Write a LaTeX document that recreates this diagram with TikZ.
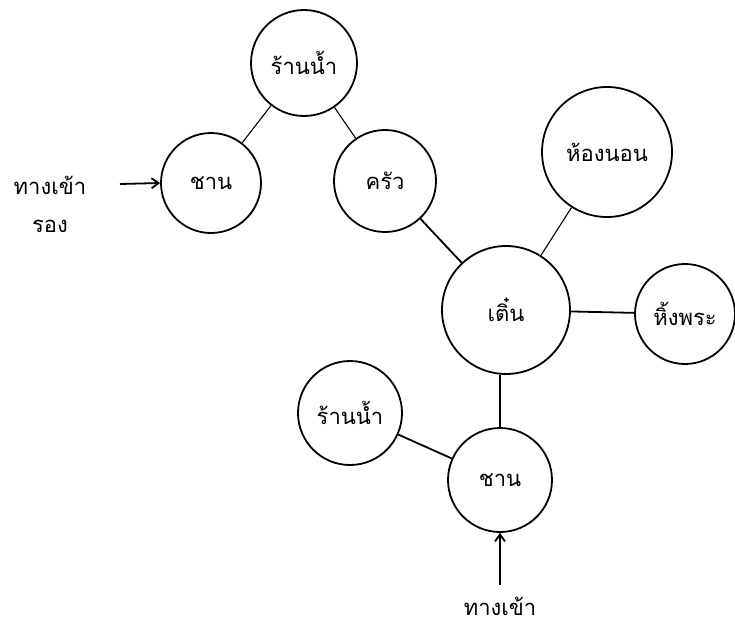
\documentclass[tikz,border=0pt]{standalone}
\usepackage{fontspec}
\newfontfamily\thaifont[Script=Thai]{Loma}
\usetikzlibrary{arrows.meta}
\begin{document}
\begin{tikzpicture}[x=1pt,y=-1pt,
  room/.style={circle,draw,line width=1.8pt,inner sep=0pt,font=\thaifont\fontsize{22}{26}\selectfont},
  lbl/.style={font=\thaifont\fontsize{22}{26}\selectfont,inner sep=0pt},
  thin/.style={line width=1.1pt},
  thick/.style={line width=1.8pt},
  arr/.style={line width=1.8pt,-{Straight Barb[length=7pt,width=10pt]}}]
\useasboundingbox (0,0) rectangle (735,624);
\node[room,minimum size=106pt] (r1) at (304,63) {ร้านน้ำ};
\node[room,minimum size=100pt] (c1) at (211,183) {ชาน};
\node[room,minimum size=102pt] (k) at (385,181) {ครัว};
\node[room,minimum size=130pt] (b) at (607,152) {ห้องนอน};
\node[room,minimum size=128pt] (t) at (506,310) {เติ๋น};
\node[room,minimum size=100pt] (h) at (685,314) {หิ้งพระ};
\node[room,minimum size=104pt] (r2) at (350,413) {ร้านน้ำ};
\node[room,minimum size=104pt] (c2) at (500,480) {ชาน};
\node[lbl] (e1) at (50,185) {ทางเข้า};
\node[lbl] (e1b) at (50,226) {รอง};
\node[lbl] (e2) at (500,606) {ทางเข้า};
\coordinate (a1) at (120,184);
\coordinate (a2) at (500,585);
\draw[thin] (r1) -- (c1);
\draw[thin] (r1) -- (k);
\draw[thick] (k) -- (t);
\draw[thin] (b) -- (t);
\draw[thick] (t) -- (h);
\draw[thick] (t.south -| c2) -- (c2);
\draw[thick] (r2) -- (c2);
\draw[arr] (a1) -- (c1.west);
\draw[arr] (a2) -- (c2.south);
\end{tikzpicture}
\end{document}
